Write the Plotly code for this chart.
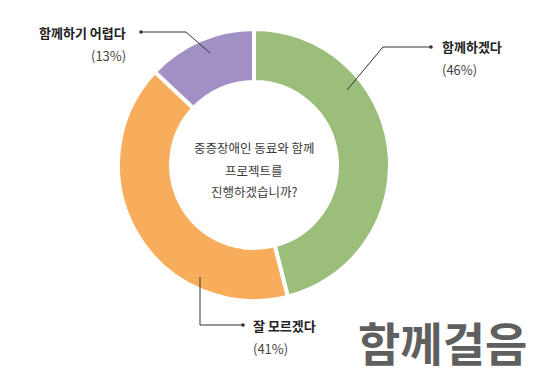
import plotly.graph_objects as go

W, H = 544, 376

# Data
categories = ["함께하겠다", "잘 모르겠다", "함께하기 어렵다"]
values = [46, 41, 13]
pct_labels = ["(46%)", "(41%)", "(13%)"]
colors = ["#9cbe7b", "#f8ad5c", "#a190c3"]
center_lines = ["중증장애인 동료와 함께", "프로젝트를", "진행하겠습니까?"]
watermark = "함께걸음"

FONT = "Noto Sans CJK KR"

def px(x):
    return x / W

def py(y):
    return 1 - y / H

fig = go.Figure()
fig.add_trace(go.Pie(
    labels=categories,
    values=values,
    hole=0.61,
    sort=False,
    direction="clockwise",
    rotation=0,
    marker=dict(colors=colors, line=dict(color="white", width=4)),
    textinfo="none",
    hoverinfo="skip",
    showlegend=False,
    domain=dict(x=[px(118), px(390)], y=[py(301), py(29)]),
))

annotations = []
# center text
for i, line in enumerate(center_lines):
    annotations.append(dict(
        x=px(254), y=py(148 + 22 * i), xref="paper", yref="paper",
        text=line, showarrow=False, xanchor="center", yanchor="middle",
        font=dict(family=FONT, size=12.5, color="#3a3a3a"),
    ))

# label positions (pixel anchors)
label_specs = [
    (440, 46, "left"),
    (251, 325, "left"),
    (128, 32, "right"),
]
for (lx, ly, anc), name, pct in zip(label_specs, categories, pct_labels):
    annotations.append(dict(
        x=px(lx), y=py(ly), xref="paper", yref="paper", text="<b>" + name + "</b>",
        showarrow=False, xanchor=anc, yanchor="middle",
        font=dict(family=FONT, size=13, color="#222222"),
    ))
    annotations.append(dict(
        x=px(lx), y=py(ly + 23), xref="paper", yref="paper", text=pct,
        showarrow=False, xanchor=anc, yanchor="middle",
        font=dict(family=FONT, size=13, color="#444444"),
    ))

annotations.append(dict(
    x=px(442), y=py(341), xref="paper", yref="paper", text="<b>" + watermark + "</b>",
    showarrow=False, xanchor="center", yanchor="middle",
    font=dict(family=FONT, size=46, color="#5f5f5f"),
))

# leader lines (pixel paths)
leaders = [
    [(431, 47), (383, 47), (347, 90)],
    [(243, 325), (200, 325), (200, 277)],
    [(141, 32), (186, 32), (210, 53)],
]
shapes = []
for pts in leaders:
    path = "M " + " L ".join(f"{px(x)},{py(y)}" for x, y in pts)
    shapes.append(dict(type="path", xref="paper", yref="paper", path=path,
                       line=dict(color="#333333", width=1)))
    x0, y0 = pts[0]
    shapes.append(dict(type="circle", xref="paper", yref="paper",
                       x0=px(x0 - 1.8), x1=px(x0 + 1.8), y0=py(y0 + 1.8), y1=py(y0 - 1.8),
                       fillcolor="#333333", line=dict(width=0)))

fig.update_layout(
    width=W, height=H,
    margin=dict(l=0, r=0, t=0, b=0),
    paper_bgcolor="white", plot_bgcolor="white",
    annotations=annotations, shapes=shapes,
)

fig.write_html("out.html", config={"displayModeBar": False},
               post_script="document.body.style.margin='0';document.body.style.padding='0';")
